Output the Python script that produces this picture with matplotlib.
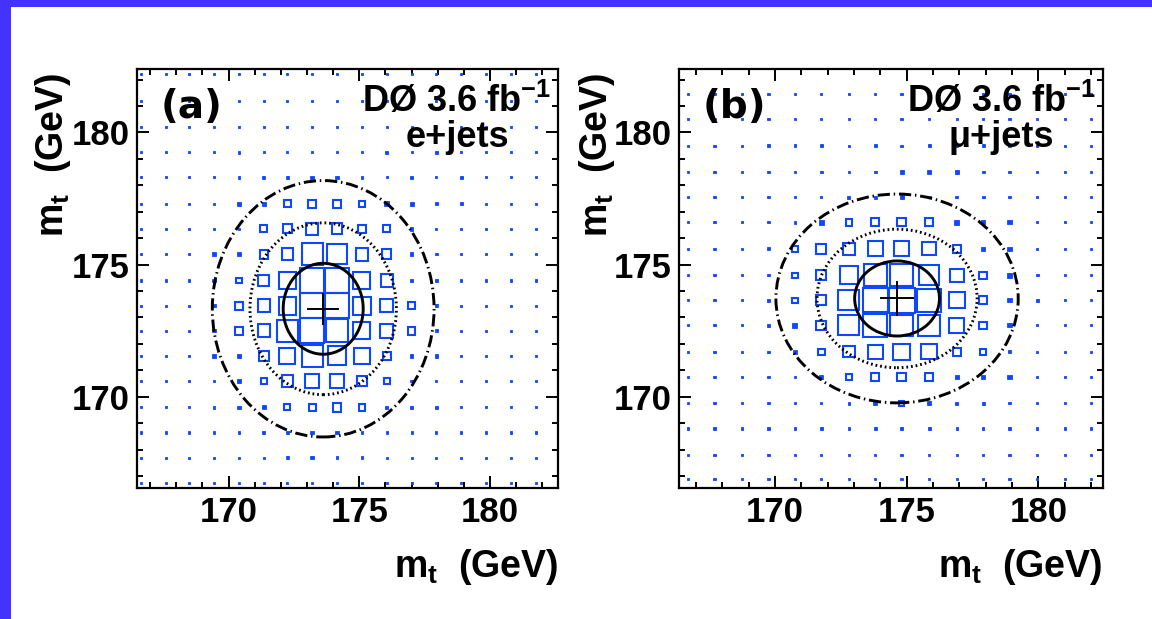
import matplotlib
matplotlib.use('Agg')
import matplotlib.pyplot as plt
from matplotlib.patches import Rectangle, Ellipse
from matplotlib.ticker import MultipleLocator
import numpy as np

plt.rcParams['font.family'] = ['Liberation Sans', 'DejaVu Sans']
plt.rcParams['font.weight'] = 'bold'

# ---------------- (a) e+jets ----------------
# bin centres of the 2D likelihood histogram (GeV)
mt_a = [166.65, 167.6, 168.5, 169.45, 170.4, 171.35, 172.25, 173.2, 174.15,
        175.1, 176.05, 177.0, 177.95, 178.9, 179.85, 180.8, 181.75]
mtbar_a = [182.2, 181.2, 180.2, 179.25, 178.3, 177.3, 176.35, 175.4, 174.4,
           173.45, 172.5, 171.55, 170.6, 169.6, 168.65, 167.7, 166.75]
# likelihood per bin, percent of maximum (rows from top to bottom)
like_a = [
    [8, 8, 8, 8, 8, 8, 8, 8, 8, 8, 8, 8, 8, 8, 8, 8, 8],
    [8, 8, 8, 8, 8, 8, 8, 8, 8, 8, 8, 8, 8, 8, 8, 8, 8],
    [8, 8, 8, 8, 8, 8, 8, 8, 8, 8, 8, 8, 8, 8, 8, 8, 8],
    [8, 8, 8, 8, 11, 8, 8, 8, 8, 8, 11, 8, 11, 8, 8, 8, 8],
    [8, 8, 8, 8, 11, 11, 11, 14, 14, 11, 8, 11, 8, 11, 8, 8, 8],
    [8, 8, 8, 8, 16, 16, 27, 30, 30, 22, 19, 16, 11, 11, 8, 8, 8],
    [8, 8, 8, 8, 11, 27, 35, 49, 43, 32, 27, 14, 8, 8, 8, 8, 8],
    [8, 8, 8, 14, 14, 35, 46, 84, 78, 51, 38, 14, 11, 8, 8, 8, 8],
    [8, 8, 8, 14, 22, 46, 68, 95, 95, 68, 49, 14, 14, 8, 8, 8, 8],
    [8, 8, 8, 14, 32, 49, 70, 97, 97, 70, 54, 30, 14, 8, 8, 8, 8],
    [8, 8, 8, 14, 30, 49, 86, 97, 92, 68, 54, 30, 11, 8, 8, 8, 8],
    [8, 8, 8, 14, 16, 38, 65, 84, 74, 62, 32, 14, 14, 8, 8, 8, 8],
    [8, 8, 8, 8, 16, 24, 46, 57, 57, 41, 24, 11, 8, 8, 8, 8, 8],
    [8, 8, 8, 11, 14, 16, 24, 27, 35, 27, 14, 14, 11, 8, 8, 8, 8],
    [8, 8, 8, 8, 8, 11, 11, 14, 14, 11, 8, 8, 8, 8, 8, 8, 8],
    [8, 8, 8, 8, 8, 8, 11, 14, 11, 11, 8, 8, 8, 8, 8, 8, 8],
    [8, 8, 8, 8, 8, 8, 8, 8, 8, 8, 8, 8, 8, 8, 8, 8, 8],
]
fit_a = (173.62, 173.33)
err_a = (0.57, 0.57)
# 1, 2, 3 sigma contours: semi-axes along mt and mtbar
sigma_a = [(1.53, 1.72), (2.8, 3.25), (4.24, 4.85)]
xlim_a = (166.5, 182.6)

# ---------------- (b) mu+jets ----------------
mt_b = [166.7, 167.7, 168.75, 169.75, 170.75, 171.75, 172.8, 173.8, 174.8,
        175.85, 176.9, 177.9, 178.9, 179.95, 181.0, 182.0]
mtbar_b = [181.45, 180.5, 179.5, 178.5, 177.55, 176.6, 175.6, 174.6, 173.65,
           172.7, 171.7, 170.75, 169.75, 168.8, 167.8, 166.9]
like_b = [
    [8, 8, 8, 8, 8, 8, 8, 8, 8, 8, 8, 8, 8, 8, 8, 8],
    [8, 8, 8, 8, 8, 8, 8, 8, 8, 8, 8, 8, 8, 8, 8, 8],
    [8, 8, 8, 10, 10, 10, 8, 10, 8, 10, 8, 10, 10, 8, 8, 8],
    [8, 8, 8, 10, 10, 10, 8, 10, 15, 15, 15, 10, 10, 8, 8, 8],
    [8, 8, 8, 8, 8, 8, 12, 12, 15, 10, 10, 10, 8, 8, 8, 8],
    [8, 8, 8, 8, 10, 18, 25, 32, 32, 32, 18, 15, 15, 8, 8, 8],
    [8, 8, 8, 10, 22, 37, 45, 57, 59, 52, 32, 15, 15, 8, 8, 8],
    [8, 8, 8, 10, 20, 38, 69, 85, 87, 76, 52, 28, 18, 10, 8, 8],
    [8, 8, 8, 10, 20, 38, 78, 94, 97, 90, 62, 30, 15, 10, 8, 8],
    [8, 8, 8, 10, 18, 38, 78, 90, 85, 80, 56, 28, 15, 8, 8, 8],
    [8, 8, 8, 8, 15, 25, 42, 55, 60, 58, 32, 22, 12, 8, 8, 8],
    [8, 8, 8, 10, 10, 15, 22, 32, 32, 32, 15, 15, 15, 8, 8, 8],
    [8, 8, 8, 8, 8, 8, 10, 15, 20, 15, 10, 10, 8, 8, 8, 8],
    [8, 8, 8, 8, 8, 10, 10, 10, 10, 10, 8, 8, 8, 8, 8, 8],
    [8, 8, 8, 8, 8, 8, 8, 8, 8, 8, 8, 8, 8, 8, 8, 8],
    [8, 8, 8, 8, 8, 8, 8, 8, 8, 8, 8, 8, 8, 8, 8, 8],
]
fit_b = (174.63, 173.72)
err_b = (0.6, 0.62)
sigma_b = [(1.61, 1.42), (3.04, 2.62), (4.6, 3.95)]
xlim_b = (166.35, 182.45)

ylim = (166.55, 182.4)
BLUE = '#0d47ff'
FRAME = '#4433ff'

contour_styles = [
    dict(ls='-', lw=2.1),
    dict(ls=(0, (0.6, 1.0)), lw=2.1),
    dict(ls=(0, (4.2, 1.3, 0.5, 1.3)), lw=2.1),
]


def draw_panel(ax, xs, ys, like, fit, err, sigmas, xlim, tag, channel):
    dx = np.mean(np.diff(xs))
    dy = -np.mean(np.diff(ys))
    for i, y in enumerate(ys):
        for j, x in enumerate(xs):
            f = like[i][j] / 100.0
            w, h = f * dx, f * dy
            if w < 0.2:
                # small bins: solid blue marks
                box = Rectangle((x - w / 2, y - h / 2), w, h, facecolor=BLUE,
                                edgecolor=BLUE, linewidth=0.6, zorder=2)
            else:
                box = Rectangle((x - w / 2, y - h / 2), w, h, fill=False,
                                edgecolor=BLUE, linewidth=1.5, zorder=2)
            ax.add_patch(box)

    for (rx, ry), st in zip(sigmas, contour_styles):
        ax.add_patch(Ellipse(fit, 2 * rx, 2 * ry, fill=False, edgecolor='black',
                             linestyle=st['ls'], linewidth=st['lw'], zorder=3))

    cx, cy = fit
    ex, ey = err
    ax.plot([cx - ex, cx + ex], [cy, cy], color='black', lw=1.4, zorder=4)
    ax.plot([cx, cx], [cy - ey, cy + ey], color='black', lw=1.4, zorder=4)

    ax.set_xlim(*xlim)
    ax.set_ylim(*ylim)
    for a in (ax.xaxis, ax.yaxis):
        a.set_major_locator(MultipleLocator(5))
        a.set_minor_locator(MultipleLocator(1))
    ax.tick_params(which='both', direction='in', top=True, right=True,
                   width=1.4, labelsize=25)
    ax.tick_params(which='major', length=8.5)
    ax.tick_params(which='minor', length=4.5)
    ax.tick_params(axis='x', pad=6)
    ax.tick_params(axis='y', pad=5)
    for s in ax.spines.values():
        s.set_linewidth(1.6)

    ax.text(0.055, 0.883, tag, transform=ax.transAxes, fontsize=28,
            family='DejaVu Sans', fontweight='bold', ha='left', va='baseline',
            zorder=5)
    ax.text(0.76, 0.897, r'DØ 3.6 fb$^{\mathregular{-1}}$', transform=ax.transAxes,
            fontsize=26, ha='center', va='baseline', zorder=5)
    ax.text(0.76, 0.815, channel, transform=ax.transAxes, fontsize=26,
            ha='center', va='baseline', zorder=5)


W, H = 1152, 619
fig = plt.figure(figsize=(W / 100, H / 100), dpi=100)

ax_a = fig.add_axes([137 / W, 1 - 488 / H, 421 / W, 419 / H])
ax_b = fig.add_axes([679 / W, 1 - 488 / H, 424 / W, 419 / H])

draw_panel(ax_a, mt_a, mtbar_a, like_a, fit_a, err_a, sigma_a, xlim_a, '(a)', 'e+jets')
draw_panel(ax_b, mt_b, mtbar_b, like_b, fit_b, err_b, sigma_b, xlim_b, '(b)', 'μ+jets')

label = r'm$_{\mathregular{t}}$  (GeV)'
for ylx, xrx in ((53, 558), (597, 1102)):
    fig.text(ylx / W, 1 - 73 / H, label, rotation=90, ha='center', va='top', fontsize=27)
    fig.text(xrx / W, 1 - 577 / H, label, ha='right', va='baseline', fontsize=27)

# coloured page frame
fig.add_artist(Rectangle((0, 1 - 7 / H), 1, 7 / H, transform=fig.transFigure,
                         facecolor=FRAME, edgecolor='none'))
fig.add_artist(Rectangle((0, 0), 11 / W, 1, transform=fig.transFigure,
                         facecolor=FRAME, edgecolor='none'))

fig.savefig('out.png', dpi=100)
